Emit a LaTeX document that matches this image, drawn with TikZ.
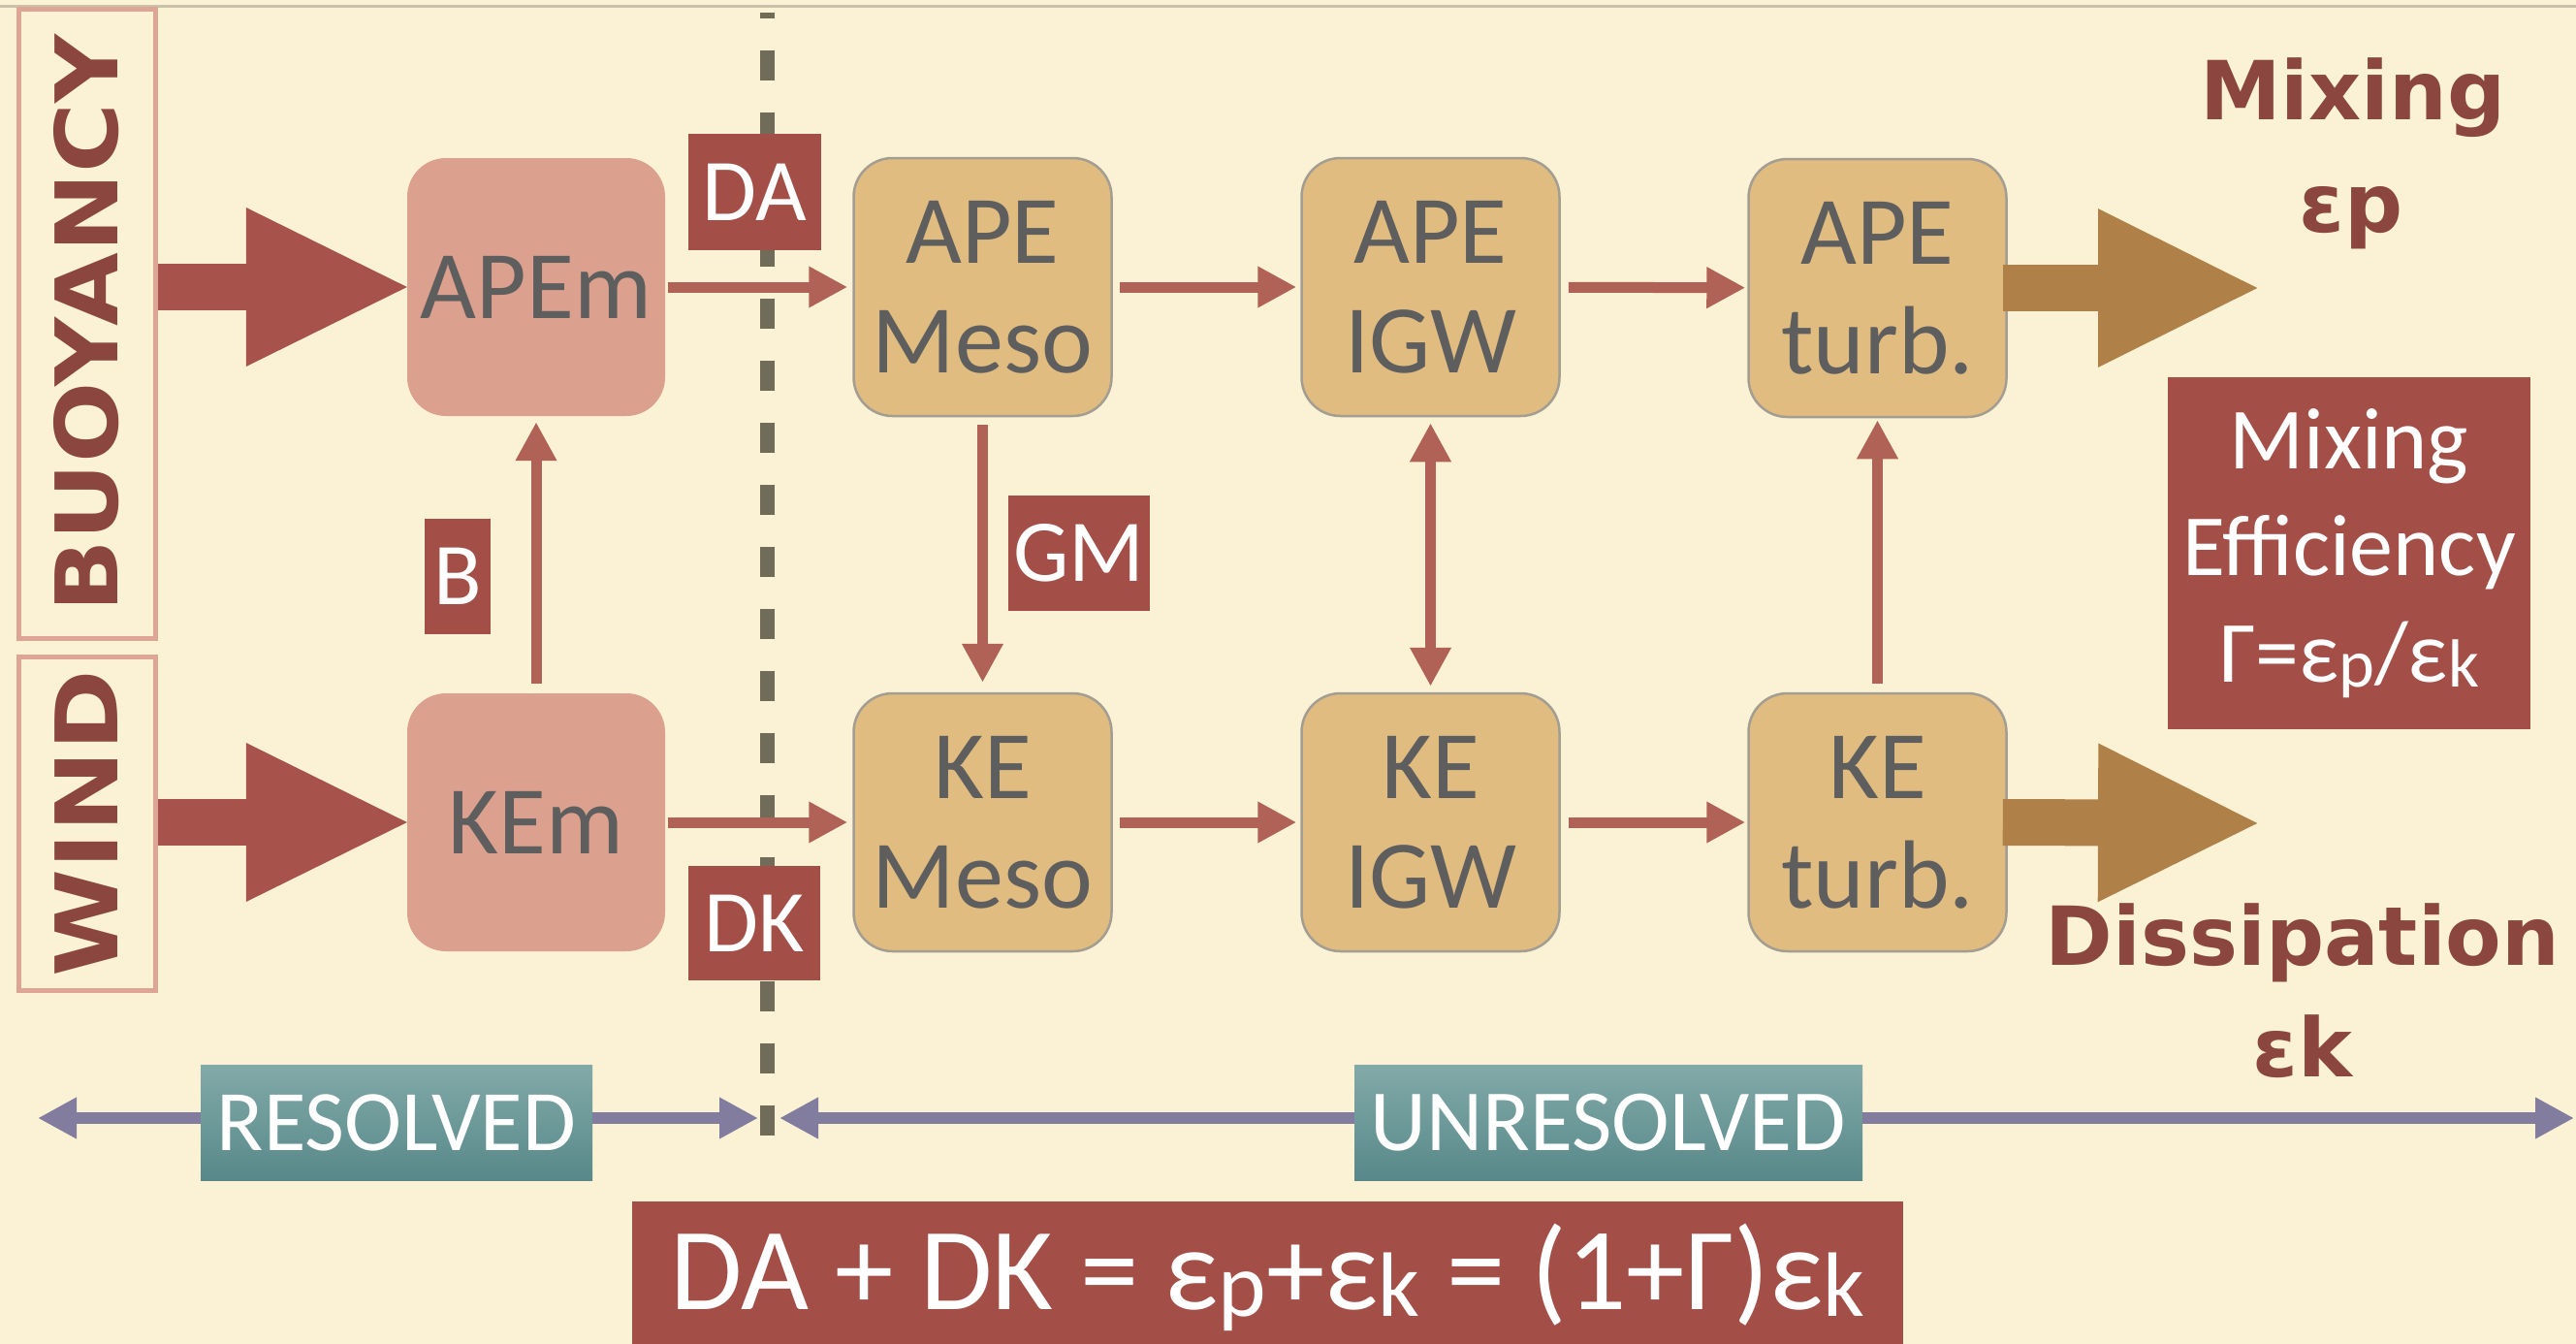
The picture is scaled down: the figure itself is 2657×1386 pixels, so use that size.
\documentclass[tikz,border=0pt]{standalone}
\usepackage{fontspec}
\usepackage{graphicx}
\setmainfont{Carlito}
\newfontfamily\heavy{DejaVu Sans}
\usetikzlibrary{arrows.meta}
\definecolor{bg}{HTML}{FBF2D5}
\definecolor{topline}{HTML}{C9C1A9}
\definecolor{dashc}{HTML}{716B5A}
\definecolor{salmon}{HTML}{DBA08E}
\definecolor{tanf}{HTML}{E0BC80}
\definecolor{tanb}{HTML}{A39D92}
\definecolor{boxtext}{HTML}{5E5E5E}
\definecolor{labred}{HTML}{A34F48}
\definecolor{bigred}{HTML}{A7524A}
\definecolor{arrred}{HTML}{AF6255}
\definecolor{headred}{HTML}{8A463F}
\definecolor{brownarr}{HTML}{AF8048}
\definecolor{purp}{HTML}{827C9E}
\definecolor{tealtop}{HTML}{82AAA9}
\definecolor{tealbot}{HTML}{588889}
\definecolor{framec}{HTML}{DCA595}
\newcommand{\mysub}[1]{\raisebox{-0.06em}{\scalebox{0.78}{#1}}}
\begin{document}
\begin{tikzpicture}[x=1pt,y=-1pt,
  salbox/.style={fill=salmon, rounded corners=40pt, minimum width=266pt, minimum height=266pt, inner sep=0pt, text=boxtext, align=center, font=\fontsize{100}{113}\selectfont},
  tanbox/.style={fill=tanf, draw=tanb, line width=2.5pt, rounded corners=40pt, minimum width=266pt, minimum height=266pt, inner sep=0pt, text=boxtext, align=center, font=\fontsize{100}{113}\selectfont},
  lab/.style={fill=labred, text=white, inner sep=0pt, font=\fontsize{91}{91}\selectfont},
  frm/.style={draw=framec, line width=5pt, inner sep=0pt, text=headred, font=\heavy\bfseries\fontsize{89}{89}\selectfont},
  heavytxt/.style={text=headred, inner sep=0pt, font=\heavy\bfseries\fontsize{84}{84}\selectfont},
  tealbox/.style={top color=tealtop, bottom color=tealbot, text=white, inner sep=0pt, minimum height=119pt, font=\fontsize{89}{89}\selectfont},
  bigarrow/.style={draw=bigred, line width=48pt, -{Triangle[length=171pt,width=150pt]}},
  bigbrown/.style={draw=brownarr, line width=48pt, -{Triangle[length=169pt,width=150pt]}},
  tarrow/.style={draw=arrred, line width=11pt, -{Triangle[length=40pt,width=40pt]}},
  tarrowboth/.style={draw=arrred, line width=11pt, {Triangle[length=40pt,width=40pt]}-{Triangle[length=40pt,width=40pt]}},
  parrow/.style={draw=purp, line width=12pt, -{Triangle[length=40pt,width=40pt]}}
]
\useasboundingbox (0,0) rectangle (2657,1386);
\fill[bg] (0,0) rectangle (2657,1386);
\draw[topline, line width=3pt] (0,7) -- (2657,7);
\draw[dashc, line width=15pt, dash pattern=on 31pt off 33pt, dash phase=25pt] (791,13) -- (791,1171);

% side frames
\node[frm, rotate=90, minimum width=648pt, minimum height=141pt] (BUOY) at (89.5,334) {\scalebox{1.1}[1]{BUOYANCY}};
\node[frm, rotate=90, minimum width=344pt, minimum height=141pt] (WIND) at (89.5,849) {\scalebox{1.13}[1]{WIND}};

% energy boxes
\node[salbox] (APEm) at (553,296) {APEm};
\node[salbox] (KEm) at (553,848) {KEm};
\node[tanbox] (APEmeso) at (1013.5,296) {APE\\Meso};
\node[tanbox] (KEmeso) at (1013.5,848) {KE\\Meso};
\node[tanbox] (APEigw) at (1475.5,296) {APE\\IGW};
\node[tanbox] (KEigw) at (1475.5,848) {KE\\IGW};
\node[tanbox] (APEturb) at (1936.5,297) {APE\\turb.};
\node[tanbox] (KEturb) at (1936.5,848) {KE\\turb.};

% labels
\node[lab, minimum width=137pt, minimum height=120pt] (DA) at (778.5,198) {DA};
\node[lab, minimum width=136pt, minimum height=118pt] (DK) at (778,952) {DK};
\node[lab, minimum width=68pt, minimum height=119pt] (B) at (472,594.5) {B};
\node[lab, minimum width=146pt, minimum height=119pt] (GM) at (1113,570.5) {GM};

% right side texts
\node[heavytxt, anchor=base] (mixT) at (2427,124) {Mixing};
\node[heavytxt, anchor=base] (epsp) at (2425,239) {εp};
\node[heavytxt, anchor=base] (diss) at (2375,995) {Dissipation};
\node[heavytxt, anchor=base] (epsk) at (2375,1110) {εk};
\node[lab, minimum width=374pt, minimum height=363pt, align=center, font=\fontsize{90}{110}\selectfont] (ME) at (2423,570.5) {Mixing\\Efficiency\\Γ=ε\mysub{p}/ε\mysub{k}};

% resolved / unresolved
\node[tealbox, minimum width=404pt] (RES) at (409,1157.5) {RESOLVED};
\node[tealbox, minimum width=524pt, font=\fontsize{90}{90}\selectfont] (UNRES) at (1659,1157.5) {UNRESOLVED};
\coordinate (rl) at (39,1153);
\coordinate (rr) at (782,1153);
\coordinate (ul) at (804,1153);
\coordinate (ur) at (2655,1153);
\draw[parrow] (rl -| RES.west) -- (rl);
\draw[parrow] (rr -| RES.east) -- (rr);
\draw[parrow] (ul -| UNRES.west) -- (ul);
\draw[parrow] (ur -| UNRES.east) -- (ur);

% equation
\node[lab, minimum width=1311pt, minimum height=160pt, text height=80pt, text depth=18pt, font=\fontsize{121}{121}\selectfont] (EQ) at (1307.5,1319) {DA + DK = ε\mysub{p}+ε\mysub{k} = (1+Γ)ε\mysub{k}};

% big input arrows
\draw[bigarrow] (BUOY.south |- APEm.west) -- ([xshift=5pt]APEm.west);
\draw[bigarrow] (WIND.south |- KEm.west) -- ([xshift=5pt]KEm.west);

% big output arrows
\coordinate (mixend) at (2333,297);
\coordinate (dissend) at (2333,849);
\draw[bigbrown] ([xshift=-5pt]APEturb.east) -- (mixend);
\draw[bigbrown] ([xshift=-5pt]KEturb.east) -- (dissend);

% thin arrows
\draw[tarrow, shorten <=3pt, shorten >=5pt] (APEm) -- (APEmeso);
\draw[tarrow, shorten <=3pt, shorten >=5pt] (KEm) -- (KEmeso);
\draw[tarrow, shorten <=7pt, shorten >=4pt] (APEmeso) -- (APEigw);
\draw[tarrow, shorten <=7pt, shorten >=4pt] (KEmeso) -- (KEigw);
\draw[tarrow, shorten <=8pt, shorten >=2pt] (APEigw) -- (APEturb);
\draw[tarrow, shorten <=8pt, shorten >=2pt] (KEigw) -- (KEturb);
\draw[tarrow, shorten <=10pt, shorten >=6pt] (KEm) -- (APEm);
\draw[tarrow, shorten <=8pt, shorten >=10pt] (APEmeso) -- (KEmeso);
\draw[tarrowboth, shorten <=6pt, shorten >=6pt] (APEigw) -- (KEigw);
\draw[tarrow, shorten <=9pt, shorten >=2pt] (KEturb) -- (APEturb);
\end{tikzpicture}
\end{document}
